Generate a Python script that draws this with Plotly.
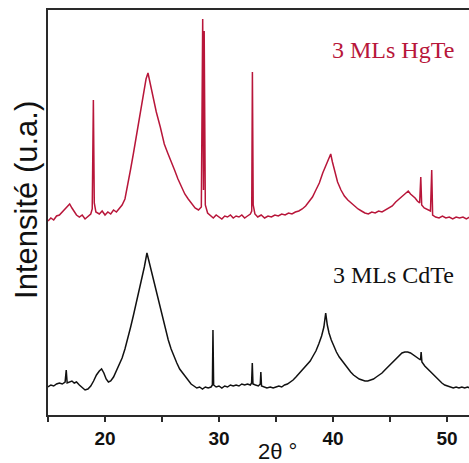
import plotly.graph_objects as go

# ---- data (2θ in degrees, intensity in arbitrary units) ----
hgte_2theta = [15.0, 15.25, 15.5, 15.75, 16.0, 16.25, 16.5, 16.75, 16.9, 17.1, 17.3, 17.5, 17.75, 18.0,
               18.25, 18.5, 18.75, 18.88, 18.98, 19.06, 19.2, 19.5, 19.75, 20.0, 20.25, 20.5, 20.75,
               21.0, 21.25, 21.5, 21.75, 22.0, 22.25, 22.5, 22.8, 23.1, 23.4, 23.6, 23.77, 23.95, 24.2,
               24.5, 24.85, 25.2, 25.5, 25.8, 26.1, 26.4, 26.7, 27.0, 27.3, 27.6, 27.9, 28.2, 28.45,
               28.57, 28.64, 28.7, 28.8, 29.0, 29.25, 29.5, 29.75, 30.0, 30.25, 30.5, 30.75, 31.0,
               31.25, 31.5, 31.75, 32.0, 32.25, 32.5, 32.75, 32.87, 32.93, 33.0, 33.15, 33.4, 33.7,
               34.0, 34.3, 34.6, 34.9, 35.2, 35.5, 35.8, 36.1, 36.4, 36.7, 37.0, 37.3, 37.6, 37.9,
               38.2, 38.5, 38.8, 39.1, 39.4, 39.6, 39.8, 39.95, 40.15, 40.4, 40.7, 41.0, 41.3, 41.6,
               41.9, 42.2, 42.5, 42.8, 43.1, 43.4, 43.7, 44.0, 44.3, 44.6, 44.9, 45.2, 45.5, 45.8,
               46.1, 46.4, 46.6, 46.8, 47.0, 47.2, 47.4, 47.6, 47.7, 47.78, 48.0, 48.3, 48.55, 48.66,
               48.74, 49.0, 49.3, 49.6, 49.9, 50.2, 50.5, 50.8, 51.1, 51.4, 51.7, 52.0]
hgte_intensity = [194, 197, 195, 199, 200, 203, 206, 209, 211, 207, 203, 200, 198, 200,
                  196, 199, 201, 206, 315, 212, 203, 201, 204, 200, 203, 201, 205,
                  203, 207, 210, 216, 230, 246, 262, 282, 305, 326, 336, 342, 332, 316,
                  303, 288, 271, 262, 254, 245, 236, 228, 221, 216, 212, 207, 205, 208,
                  396, 225, 384, 210, 202, 199, 197, 200, 198, 196, 199, 198, 200,
                  197, 199, 198, 200, 197, 199, 201, 204, 343, 210, 201, 198, 200,
                  197, 199, 198, 200, 199, 201, 200, 202, 201, 203, 204, 206, 209, 213,
                  218, 225, 232, 242, 251, 256, 261, 253, 243, 233, 225, 219, 215, 212,
                  209, 206, 204, 202, 201, 203, 202, 204, 203, 205, 207, 209, 213, 216,
                  219, 222, 224, 221, 219, 217, 214, 212, 238, 210, 207, 205, 204, 245,
                  200, 198, 197, 199, 197, 198, 196, 198, 197, 198, 196, 198]

cdte_2theta = [15.0, 15.25, 15.5, 15.75, 16.0, 16.25, 16.5, 16.6, 16.68, 16.9, 17.1, 17.3, 17.5,
               17.75, 18.0, 18.25, 18.5, 18.75, 19.0, 19.25, 19.5, 19.7, 19.9, 20.1, 20.3, 20.5,
               20.75, 21.0, 21.25, 21.5, 21.75, 22.0, 22.25, 22.5, 22.75, 23.0, 23.25, 23.45, 23.68,
               23.85, 24.05, 24.3, 24.55, 24.8, 25.05, 25.3, 25.55, 25.8, 26.05, 26.3, 26.55, 26.8,
               27.05, 27.3, 27.55, 27.8, 28.05, 28.3, 28.55, 28.8, 29.05, 29.3, 29.42, 29.47, 29.53,
               29.75, 30.0, 30.25, 30.5, 30.75, 31.0, 31.25, 31.5, 31.75, 32.0, 32.25, 32.5, 32.75,
               32.86, 32.92, 32.98, 33.2, 33.45, 33.62, 33.67, 33.73, 33.95, 34.2, 34.5, 34.75, 35.0,
               35.25, 35.5, 35.75, 36.0, 36.25, 36.5, 36.75, 37.0, 37.25, 37.5, 37.75, 38.0, 38.25,
               38.5, 38.75, 39.0, 39.2, 39.36, 39.5, 39.65, 39.85, 40.05, 40.3, 40.55, 40.8, 41.05,
               41.3, 41.55, 41.8, 42.05, 42.3, 42.55, 42.8, 43.05, 43.3, 43.55, 43.8, 44.05, 44.3,
               44.55, 44.8, 45.05, 45.3, 45.55, 45.8, 46.05, 46.3, 46.55, 46.8, 47.05, 47.3, 47.55,
               47.68, 47.73, 47.8, 48.05, 48.3, 48.55, 48.8, 49.05, 49.3, 49.55, 49.8, 50.05, 50.3,
               50.55, 50.8, 51.05, 51.3, 51.55, 51.8, 52.0]
cdte_intensity = [28, 30, 29, 31, 32, 31, 33, 45, 32, 33, 34, 32, 33,
                  30, 27, 25, 26, 29, 34, 40, 44, 46, 42, 36, 33, 34,
                  38, 44, 50, 57, 66, 76, 88, 100, 112, 125, 137, 148, 162,
                  154, 145, 133, 120, 108, 96, 85, 75, 66, 58, 52, 46, 42,
                  38, 35, 31, 29, 27, 28, 26, 28, 27, 28, 30, 85, 30,
                  28, 29, 27, 29, 28, 30, 29, 30, 29, 31, 30, 31, 30,
                  32, 52, 31, 30, 29, 31, 43, 29, 28, 27, 28, 27, 28,
                  29, 28, 30, 31, 33, 35, 38, 41, 44, 47, 50, 54, 59,
                  64, 71, 79, 88, 102, 90, 82, 75, 69, 63, 58, 54, 50,
                  46, 43, 40, 38, 36, 35, 34, 34, 35, 36, 38, 40, 42,
                  45, 48, 51, 54, 57, 60, 62, 63, 63, 62, 60, 58, 56,
                  55, 63, 53, 49, 46, 43, 40, 37, 34, 32, 30, 29, 28,
                  27, 28, 27, 28, 27, 28, 27]

x_tick_vals = [15, 20, 25, 30, 35, 40, 45, 50]
x_tick_text = ["", "20", "", "30", "", "40", "", "50"]

RED = "#b8163a"
BLACK = "#111111"
AXIS = "#2a2a2a"

fig = go.Figure()
fig.add_trace(go.Scatter(x=hgte_2theta, y=hgte_intensity, mode="lines",
                         line=dict(color=RED, width=1.5), showlegend=False, hoverinfo="skip"))
fig.add_trace(go.Scatter(x=cdte_2theta, y=cdte_intensity, mode="lines",
                         line=dict(color=BLACK, width=1.5), showlegend=False, hoverinfo="skip"))

fig.update_layout(
    width=469, height=463,
    margin=dict(l=48, r=0, t=10, b=48),
    paper_bgcolor="white", plot_bgcolor="white",
    xaxis=dict(range=[15, 51.93], tickmode="array", tickvals=x_tick_vals, ticktext=x_tick_text,
               ticks="outside", ticklen=5, tickwidth=1.5, tickcolor=AXIS,
               showline=True, linewidth=2, linecolor=AXIS, mirror=True,
               showgrid=False, zeroline=False,
               tickfont=dict(family="Arial, Liberation Sans, sans-serif", size=19, color="#111",
                             weight="bold"),
               ),
    yaxis=dict(range=[0, 405], showticklabels=False, ticks="", showline=True, linewidth=2,
               linecolor=AXIS, showgrid=False, zeroline=False),
    annotations=[
        dict(text="2θ °", xref="paper", yref="paper", x=0.544, y=-0.091, showarrow=False,
             xanchor="center", yanchor="middle",
             font=dict(family="Arial, Liberation Sans, sans-serif", size=22, color="#111")),
        dict(text="Intensité (u.a.)", xref="paper", yref="paper", x=-0.05, y=0.531, showarrow=False,
             textangle=-90, xanchor="center", yanchor="middle",
             font=dict(family="Arial, Liberation Sans, sans-serif", size=31, color="#111")),
        dict(text="3 MLs HgTe", xref="x", yref="y", x=45.3, y=365, showarrow=False,
             xanchor="center", yanchor="middle",
             font=dict(family="Times New Roman, Liberation Serif, serif", size=24, color=RED)),
        dict(text="3 MLs CdTe", xref="x", yref="y", x=45.3, y=140, showarrow=False,
             xanchor="center", yanchor="middle",
             font=dict(family="Times New Roman, Liberation Serif, serif", size=24, color="#111")),
    ],
)

fig.write_html("out.html", config={"displayModeBar": False},
               post_script="document.body.style.margin='0';document.body.style.overflow='hidden';")
